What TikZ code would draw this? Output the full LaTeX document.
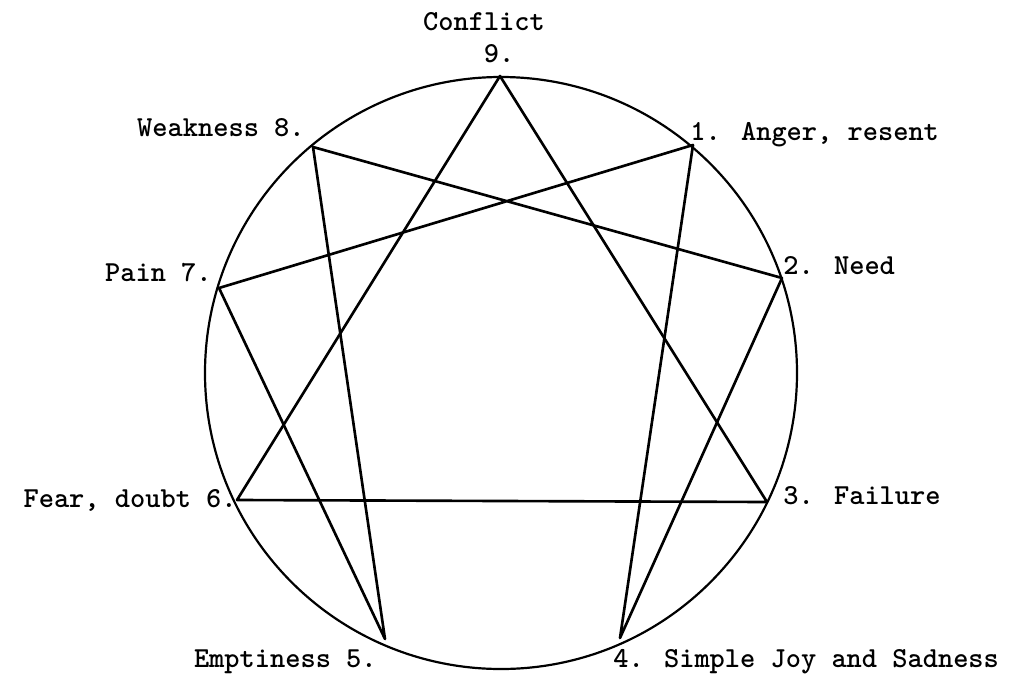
\documentclass[tikz,border=0pt]{standalone}
\usepackage{fontspec}
\usetikzlibrary{positioning}
\tikzset{
    enn_ring/.style={draw=black, line width=1.25pt},
    enn_chord/.style={draw=black, line width=1.5pt, line join=round, line cap=round},
    pt_lbl/.style={font=\ttfamily\bfseries\fontsize{16.5}{18}\selectfont, inner sep=0pt, text=black}
}

\begin{document}
\begin{tikzpicture}[x=0.02cm, y=-0.02cm]
    \useasboundingbox (0,0) rectangle (1012,680);

    % Circle and its nine points
    \coordinate (ctr) at (501,373);
    \draw[enn_ring] (ctr) circle (296);
    \coordinate (p9) at (500,76);
    \coordinate (p1) at (693,145);
    \coordinate (p2) at (782,278);
    \coordinate (p3) at (767,502);
    \coordinate (p4) at (620,638);
    \coordinate (p5) at (385,639);
    \coordinate (p6) at (237,500);
    \coordinate (p7) at (219,288);
    \coordinate (p8) at (313,147);

    % Triangle 9-3-6
    \draw[enn_chord] (p9) -- (p3) -- (p6) -- cycle;

    % Hexad 1-4-2-8-5-7
    \draw[enn_chord] (p1) -- (p4) -- (p2) -- (p8) -- (p5) -- (p7) -- cycle;

    % Labels
    \node[pt_lbl, anchor=base] (conf) at (484,30) {Conflict};
    \node[pt_lbl, anchor=base] (l9) at (499,62) {9.};
    \node[pt_lbl, anchor=base west] (l1) at (690,140) {1. Anger, resent};
    \node[pt_lbl, anchor=base west] (l2) at (783,274) {2. Need};
    \node[pt_lbl, anchor=base west] (l3) at (783,504) {3. Failure};
    \node[pt_lbl, anchor=base west] (l4) at (613,667) {4. Simple Joy and Sadness};
    \node[pt_lbl, anchor=base east] (l5) at (377,667) {Emptiness 5.};
    \node[pt_lbl, anchor=base east] (l6) at (237,507) {Fear, doubt 6.};
    \node[pt_lbl, anchor=base east] (l7) at (212,281) {Pain 7.};
    \node[pt_lbl, anchor=base east] (l8) at (305,136) {Weakness 8.};
\end{tikzpicture}
\end{document}
